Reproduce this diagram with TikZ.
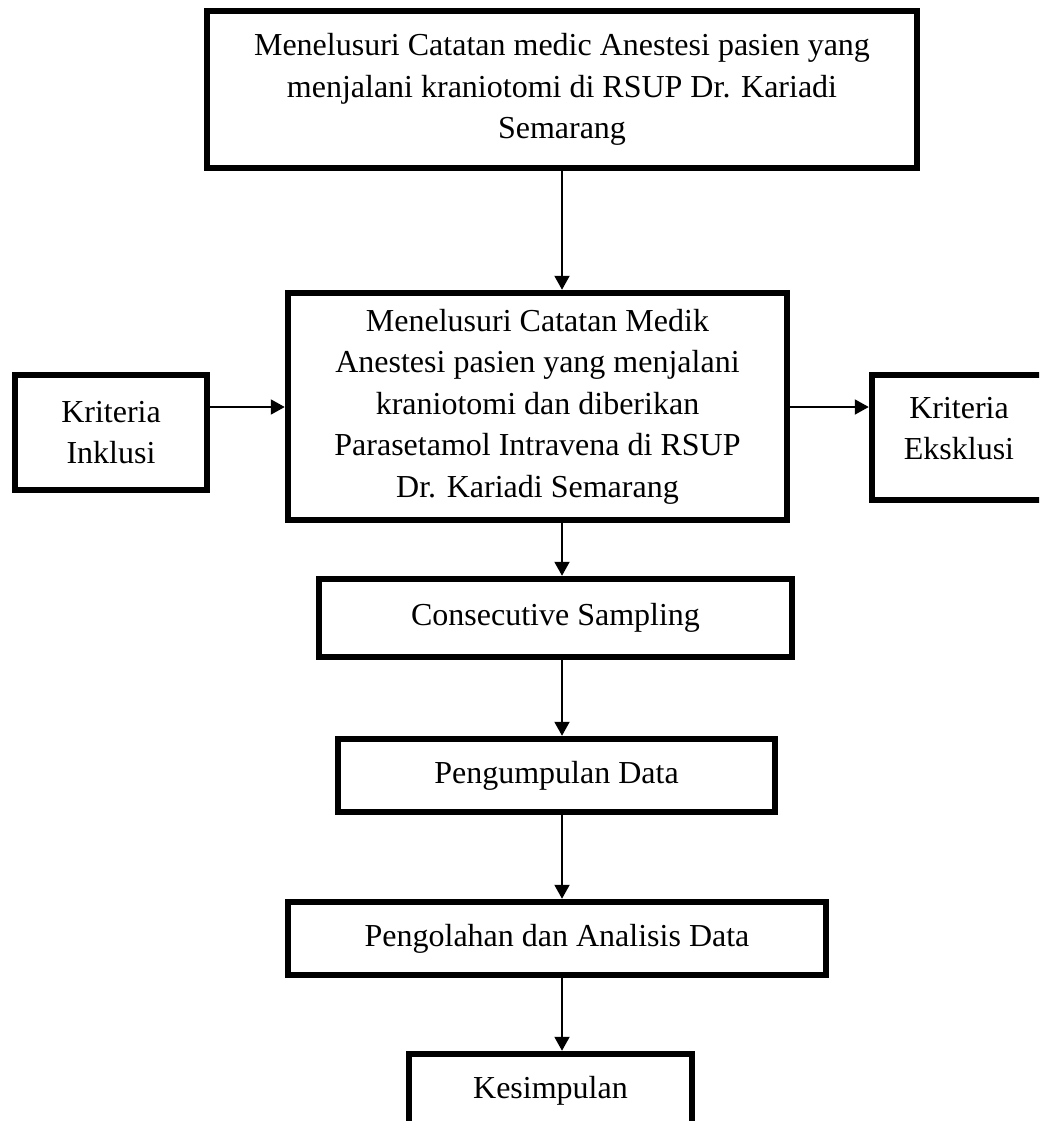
\documentclass[tikz,border=0pt]{standalone}
\usepackage{fontspec}
\setmainfont{Liberation Serif}
\usetikzlibrary{arrows.meta,calc}
\begin{document}
\begin{tikzpicture}[x=1pt,y=-1pt,
  box/.style={draw=black, line width=6.5pt, inner sep=0pt, align=center,
    font=\fontsize{32}{41.5}\selectfont, text=black},
  arr/.style={draw=black, line width=2pt, -{Triangle[width=15pt,length=14pt]}}]
\fill[white] (0,0) rectangle (1039,1121);
\useasboundingbox (0,0) rectangle (1039,1121);
\clip (0,0) rectangle (1039,1121);
\node[box, minimum width=710pt, minimum height=157pt] (top) at (562,89.5)
  {Menelusuri Catatan medic Anestesi pasien yang\\menjalani kraniotomi di RSUP Dr. Kariadi\\Semarang};
\node[box, minimum width=499pt, minimum height=227pt] (mid) at (537.5,406.5)
  {Menelusuri Catatan Medik\\Anestesi pasien yang menjalani\\kraniotomi dan diberikan\\Parasetamol Intravena di RSUP\\Dr. Kariadi Semarang};
\node[box, minimum width=192pt, minimum height=115pt] (inkl) at (111,432.5) {Kriteria\\Inklusi};
\node[box, minimum width=174pt, minimum height=125pt] (eksk) at (959,437.5) {Kriteria\\Eksklusi\\[-23.5pt]\mbox{}};
\node[box, minimum width=473pt, minimum height=78pt] (cons) at (555.5,618) {Consecutive Sampling};
\node[box, minimum width=437pt, minimum height=73pt] (peng) at (556.5,775.5) {Pengumpulan Data};
\node[box, minimum width=538pt, minimum height=73pt] (olah) at (557,938.5) {Pengolahan dan Analisis Data};
\node[box, minimum width=283pt, minimum height=73pt] (kes) at (550.5,1090.5) {Kesimpulan};
\coordinate (ax) at (562,0);
\coordinate (ay) at (0,407);
\draw[arr] (ax |- top.south) -- (ax |- mid.north);
\draw[arr] (inkl.east |- ay) -- (mid.west |- ay);
\draw[arr] (mid.east |- ay) -- (eksk.west |- ay);
\draw[arr] (ax |- mid.south) -- (ax |- cons.north);
\draw[arr] (ax |- cons.south) -- (ax |- peng.north);
\draw[arr] (ax |- peng.south) -- (ax |- olah.north);
\draw[arr] (ax |- olah.south) -- (ax |- kes.north);
\end{tikzpicture}
\end{document}
